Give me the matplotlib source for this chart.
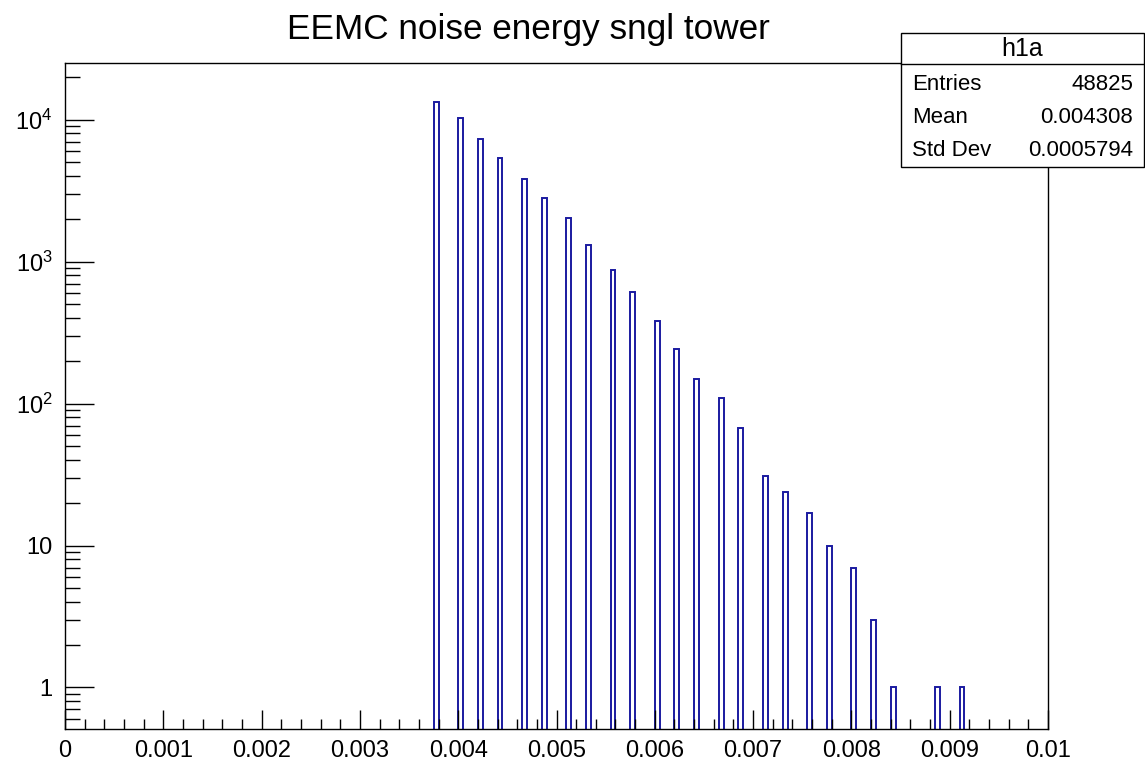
#recreating the ROOT histogram of single tower noise energy in the EEMC
import numpy as np
import matplotlib.pyplot as plt
import matplotlib as mpl
from matplotlib.patches import Rectangle
from matplotlib.ticker import MultipleLocator, LogLocator, FuncFormatter, NullFormatter

fig_w = 1145
fig_h = 762
fig_dpi = 100
mpl.rc('font', family=['Liberation Sans', 'DejaVu Sans'], size=17)
mpl.rcParams['mathtext.default'] = 'regular'

# histogram contents (non-empty bins only), 200 bins over 0 - 0.01
n_bins = 200
x_range = (0.0, 0.01)
bin_low = [0.00375, 0.0040, 0.0042, 0.0044, 0.00465, 0.00485, 0.0051, 0.0053,
           0.00555, 0.00575, 0.0060, 0.0062, 0.0064, 0.00665, 0.00685, 0.0071,
           0.0073, 0.00755, 0.00775, 0.0080, 0.0082, 0.0084, 0.00885, 0.0091]
counts = [13300, 10300, 7300, 5350, 3800, 2800, 2030, 1320,
          880, 610, 385, 243, 150, 110, 67, 31,
          24, 17, 10, 7, 3, 1, 1, 1]

hist_title = "EEMC noise energy sngl tower"
stat_name = "h1a"
stat_rows = [("Entries", "48825"), ("Mean", "0.004308"), ("Std Dev", "0.0005794")]

line_col = '#1a1aa0'

edges = np.linspace(x_range[0], x_range[1], n_bins + 1)
half_bin = (edges[1] - edges[0]) / 2
bin_vals, _ = np.histogram(np.asarray(bin_low) + half_bin, bins=edges, weights=counts)


def px_x(p):
    return p / fig_w


def px_y(p):
    return 1 - p / fig_h


figure = plt.figure(figsize=(fig_w / fig_dpi, fig_h / fig_dpi), dpi=fig_dpi)
ax = figure.add_axes([px_x(65), px_y(729), px_x(1048) - px_x(65), px_y(63) - px_y(729)])

ax.set_yscale('log')
ax.stairs(bin_vals, edges, color=line_col, linewidth=1.4)

ax.set_xlim(*x_range)
ax.set_ylim(0.51, 25100)

ax.xaxis.set_major_locator(MultipleLocator(0.001))
ax.xaxis.set_minor_locator(MultipleLocator(0.0002))
ax.xaxis.set_major_formatter(FuncFormatter(lambda v, pos: '%g' % round(v, 6)))

def log_label(v, pos):
    e = int(round(np.log10(v)))
    if e <= 1:
        return '%d' % round(v)
    return '$10^{%d}$' % e

ax.yaxis.set_major_locator(LogLocator(base=10))
ax.yaxis.set_minor_locator(LogLocator(base=10, subs=np.arange(2, 10)))
ax.yaxis.set_major_formatter(FuncFormatter(log_label))
ax.yaxis.set_minor_formatter(NullFormatter())

ax.tick_params(axis='x', which='major', direction='in', length=14, width=1.0, pad=8)
ax.tick_params(axis='x', which='minor', direction='in', length=7, width=1.0)
ax.tick_params(axis='y', which='major', direction='in', length=21, width=1.0, pad=9)
ax.tick_params(axis='y', which='minor', direction='in', length=11, width=1.0)
for s in ax.spines.values():
    s.set_linewidth(1.0)

figure.text(px_x(528), px_y(30), hist_title, ha='center', va='center', fontsize=25.3)

# stat box
figure.patches.append(Rectangle((px_x(900.5), px_y(167)), px_x(1144) - px_x(900.5), px_y(33) - px_y(167),
                                transform=figure.transFigure, facecolor='white', edgecolor='black',
                                linewidth=1.0, zorder=5))
figure.lines.append(plt.Line2D([px_x(900.5), px_x(1144)], [px_y(64), px_y(64)],
                               transform=figure.transFigure, color='black', linewidth=1.0, zorder=6))
figure.text(px_x(1022), px_y(49), stat_name, ha='center', va='center', fontsize=18, zorder=7)
for i, (name, val) in enumerate(stat_rows):
    yy = px_y(85 + i * 32.5)
    figure.text(px_x(912), yy, name, ha='left', va='center', fontsize=16, zorder=7)
    figure.text(px_x(1133), yy, val, ha='right', va='center', fontsize=16, zorder=7)

plt.savefig('out.png', dpi=fig_dpi)
plt.close()
